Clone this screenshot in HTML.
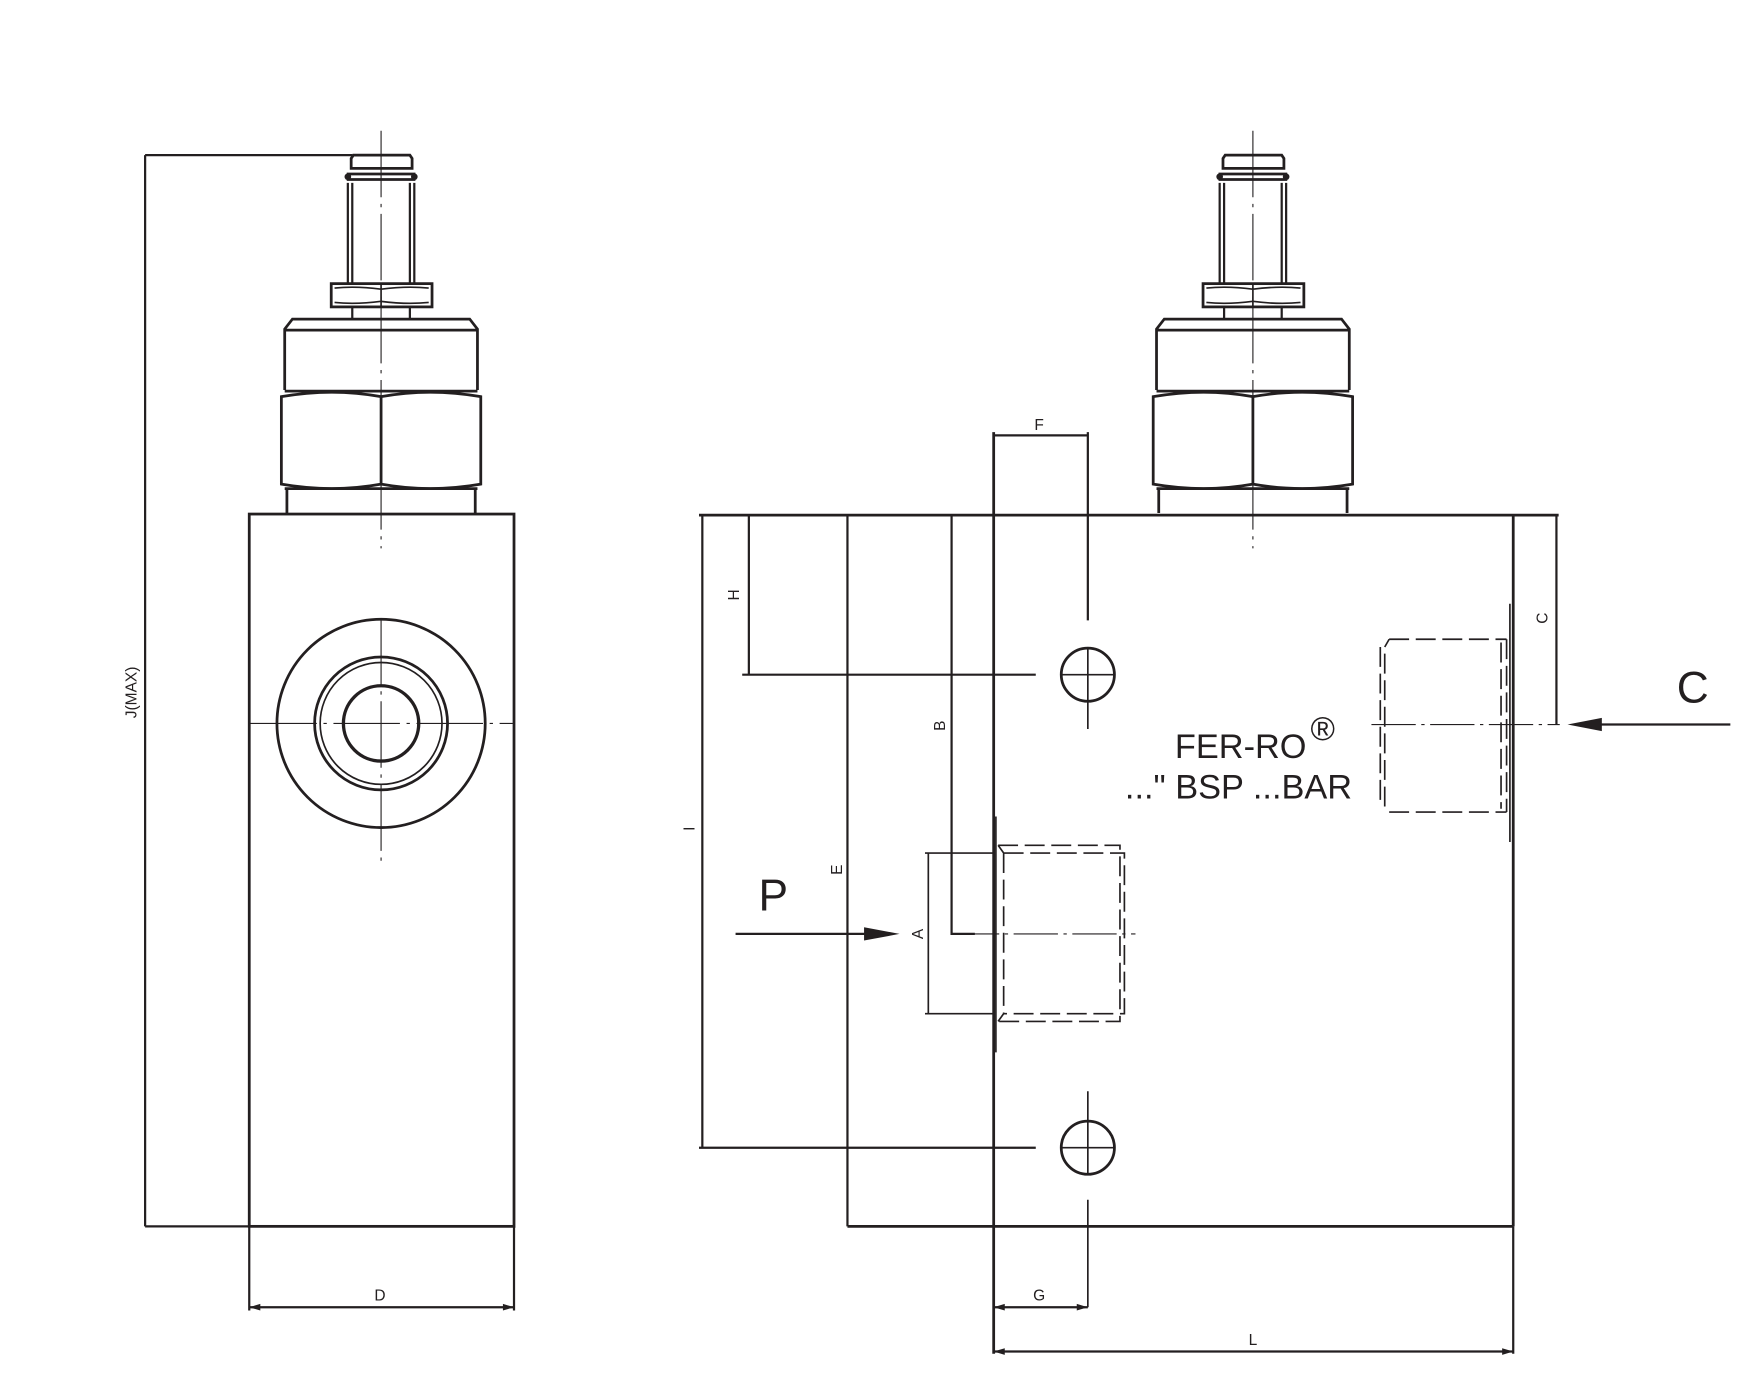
<!DOCTYPE html>
<html><head><style>html,body{margin:0;padding:0;background:#fff}svg{display:block}</style></head><body>
<svg width="1737" height="1397" viewBox="0 0 1568 1261" xmlns="http://www.w3.org/2000/svg" fill="none" stroke="#231f20" font-family="Liberation Sans, sans-serif">
<defs>
<g id="valve">
  <line x1="344" y1="118" x2="344" y2="495" stroke-width="1" stroke-dasharray="60,6,3,6"/>
  <path d="M317 152 L317 143 L319 140 L370 140 L372 143 L372 152 Z" stroke-width="2.5"/>
  <path d="M313 157 L375 157 M313 162 L375 162" stroke-width="2.5"/>
  <circle cx="314" cy="159.5" r="3" fill="#231f20" stroke="none"/>
  <circle cx="374" cy="159.5" r="3" fill="#231f20" stroke="none"/>
  <path d="M314 165 L314 256 M374 165 L374 256 M318 165 L318 256 M370 165 L370 256" stroke-width="2"/>
  <rect x="299" y="256" width="91" height="21" stroke-width="2.5"/>
  <path d="M302 260 Q321 258 344 261 Q367 258 387 260 M302 273 Q321 275 344 272 Q367 275 387 273 M344 256 L344 277" stroke-width="1.5"/>
  <path d="M318 277 L318 287 M370 277 L370 287" stroke-width="2"/>
  <path d="M257 352 L257 297 L264 288 L424 288 L431 297 L431 352 M257 298 L431 298" stroke-width="2.5"/>
  <path d="M254 358 Q300 350 344 358 Q388 350 434 358 L434 437 Q388 445 344 437 Q300 445 254 437 Z M344 358 L344 437 M257 353 L431 353" stroke-width="2.5"/>
  <path d="M259 440 L259 463 M429 440 L429 463 M257 441 L431 441" stroke-width="2.5"/>
</g>
</defs>

<!-- LEFT VIEW -->
<use href="#valve"/>
<rect x="225" y="464" width="239" height="643" stroke-width="2.5"/>
<circle cx="344" cy="653" r="94" stroke-width="2.5"/>
<circle cx="344" cy="653" r="60" stroke-width="2.5"/>
<circle cx="344" cy="653" r="55" stroke-width="1.5"/>
<circle cx="344" cy="653" r="34" stroke-width="3"/>
<path d="M226 653 L463 653 M344 558 L344 778" stroke-width="1" stroke-dasharray="60,6,3,6"/>
<path d="M131 140 L318 140 M131 140 L131 1107 M131 1107 L225 1107" stroke-width="2"/>
<text x="123" y="625" transform="rotate(-90 123 625)" font-size="14" fill="#231f20" stroke="none" text-anchor="middle">J(MAX)</text>
<path d="M225 1107 L225 1183 M464 1107 L464 1183 M225 1180 L464 1180" stroke-width="2"/>
<path d="M225 1180 l10 -3 v6 Z M464 1180 l-10 -3 v6 Z" fill="#231f20" stroke="none"/>
<text x="343" y="1174" font-size="14" fill="#231f20" stroke="none" text-anchor="middle">D</text>

<!-- RIGHT VIEW -->
<use href="#valve" transform="translate(787,0)"/>
<path d="M631 465 L1407 465 M1366 465 L1366 1107 M765 1107 L1366 1107 M897 390 L897 1222" stroke-width="2.5"/>
<path d="M897 393 L982 393 M982 390 L982 560" stroke-width="2"/>
<text x="938" y="388" font-size="14" fill="#231f20" stroke="none" text-anchor="middle">F</text>
<circle cx="982" cy="609" r="24" stroke-width="2.5"/>
<circle cx="982" cy="1036" r="24" stroke-width="2.5"/>
<path d="M958 609 L1006 609 M982 585 L982 658 M958 1036 L1006 1036 M982 985 L982 1060 M982 1083 L982 1180" stroke-width="1.5"/>
<path d="M670 609 L935 609 M631 1036 L935 1036" stroke-width="2"/>
<path d="M676 465 L676 609 M634 465 L634 1036 M765 465 L765 1107 M859 465 L859 843 L880 843" stroke-width="2"/>
<text x="667" y="537" transform="rotate(-90 667 537)" font-size="14" fill="#231f20" stroke="none" text-anchor="middle">H</text>
<text x="627" y="748" transform="rotate(-90 627 748)" font-size="14" fill="#231f20" stroke="none" text-anchor="middle">I</text>
<text x="760" y="785" transform="rotate(-90 760 785)" font-size="14" fill="#231f20" stroke="none" text-anchor="middle">E</text>
<text x="853" y="655" transform="rotate(-90 853 655)" font-size="14" fill="#231f20" stroke="none" text-anchor="middle">B</text>
<path d="M838 770 L838 915 M835 770 L897 770 M835 915 L897 915" stroke-width="1.5"/>
<text x="833" y="843" transform="rotate(-90 833 843)" font-size="14" fill="#231f20" stroke="none" text-anchor="middle">A</text>
<path d="M664 843 L790 843" stroke-width="2"/>
<path d="M812 843 L780 837 L780 849 Z" fill="#231f20" stroke="none"/>
<text x="698" y="822" font-size="40" fill="#231f20" stroke="none" text-anchor="middle">P</text>
<path d="M899 737 L899 950" stroke-width="1.5"/>
<path d="M901 763 L1011 763 L1011 922 L901 922 M906 770 L1015 770 L1015 915 L906 915 M901 763 L906 770 M901 922 L906 915 M906 770 L906 915" stroke-width="1.5" stroke-dasharray="18,6"/>
<path d="M862 843 L1025 843" stroke-width="1" stroke-dasharray="40,5,3,5"/>
<path d="M1363 545 L1363 760" stroke-width="1.5"/>
<path d="M1246 584 L1246 725 M1254 577 L1360 577 M1360 577 L1360 733 M1254 733 L1360 733 M1250 590 L1250 728 M1355 580 L1355 730 M1254 577 L1250 584" stroke-width="1.5" stroke-dasharray="18,6"/>
<path d="M1238 654 L1408 654" stroke-width="1" stroke-dasharray="40,5,3,5"/>
<path d="M1405 465 L1405 654" stroke-width="2"/>
<text x="1397" y="558" transform="rotate(-90 1397 558)" font-size="14" fill="#231f20" stroke="none" text-anchor="middle">C</text>
<path d="M1562 654 L1440 654" stroke-width="2"/>
<path d="M1415 654 L1446 648 L1446 660 Z" fill="#231f20" stroke="none"/>
<text x="1528" y="634" font-size="40" fill="#231f20" stroke="none" text-anchor="middle">C</text>
<text x="1120" y="684" font-size="31" fill="#231f20" stroke="none" text-anchor="middle">FER-RO</text>
<text x="1183" y="668" font-size="30" fill="#231f20" stroke="none">®</text>
<text x="1118" y="721" font-size="31" fill="#231f20" stroke="none" text-anchor="middle">..." BSP ...BAR</text>
<path d="M897 1180 L982 1180" stroke-width="2"/>
<path d="M897 1180 l10 -3 v6 Z M982 1180 l-10 -3 v6 Z" fill="#231f20" stroke="none"/>
<text x="938" y="1174" font-size="14" fill="#231f20" stroke="none" text-anchor="middle">G</text>
<path d="M1366 1107 L1366 1222 M897 1220 L1366 1220" stroke-width="2"/>
<path d="M897 1220 l10 -3 v6 Z M1366 1220 l-10 -3 v6 Z" fill="#231f20" stroke="none"/>
<text x="1131" y="1214" font-size="14" fill="#231f20" stroke="none" text-anchor="middle">L</text>
</svg>
</body></html>
